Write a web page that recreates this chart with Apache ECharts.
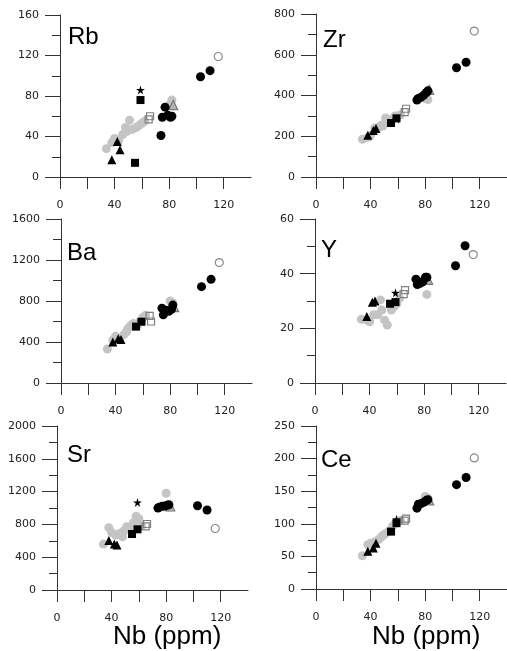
<!DOCTYPE html>
<html><head><meta charset="utf-8">
<script src="https://cdn.jsdelivr.net/npm/echarts@6/dist/echarts.min.js"></script>
<style>html,body{margin:0;padding:0;background:#fff}#c{width:507px;height:651px}</style>
</head><body><div id="c"></div>
<script>
// ---- Nb (ppm) of each sample group (x values) ----
const nbGreyCircle   = [34, 38, 40, 43, 46, 48, 49, 51, 53, 56, 58, 60, 62, 80, 82];
const nbBlackCircle  = [74, 75, 77, 79, 81, 82, 103, 110];
const nbBlackSquare  = [55, 59];
const nbTriangle     = [38, 42, 44];
const nbStar         = [59];
const nbOpenSquare   = [65, 66];
const nbOpenCircle   = [116];
const nbGreyTriangle = [83];

// ---- Rb ----
const rbGreyCircle   = [28, 34, 38, 36, 42, 49, 45, 56, 47, 49, 51, 53, 55, 71, 76];
const rbBlackCircle  = [41, 59, 69, 61, 59, 60, 99, 105];
const rbBlackSquare  = [14, 76];
const rbTriangle     = [17, 35, 27];
const rbStar         = [86];
const rbOpenSquare   = [57, 60];
const rbOpenCircle   = [119];
const rbGreyTriangle = [71];
// ---- Zr ----
const zrGreyCircle   = [185, 195, 205, 240, 245, 255, 250, 290, 270, 285, 300, 300, 305, 385, 380];
const zrBlackCircle  = [378, 385, 392, 402, 415, 423, 536, 563];
const zrBlackSquare  = [265, 288];
const zrTriangle     = [205, 228, 238];
const zrStar         = [285];
const zrOpenSquare   = [318, 335];
const zrOpenCircle   = [716];
const zrGreyTriangle = [428];
// ---- Ba ----
const baGreyCircle   = [332, 420, 455, 430, 470, 500, 530, 560, 580, 560, 600, 640, 660, 800, 780];
const baBlackCircle  = [730, 665, 710, 700, 720, 760, 940, 1011];
const baBlackSquare  = [550, 598];
const baTriangle     = [400, 432, 425];
const baStar         = [600];
const baOpenSquare   = [655, 600];
const baOpenCircle   = [1175];
const baGreyTriangle = [740];
// ---- Y ----
const yGreyCircle    = [23.3, 23, 22.4, 25, 25, 30.4, 26.7, 23, 21.2, 26.7, 28, 29, 31, 38, 32.4];
const yBlackCircle   = [38, 36, 36.5, 37, 38.7, 38.7, 42.9, 50.2];
const yBlackSquare   = [29, 29.6];
const yTriangle      = [24.3, 29.5, 30];
const yStar          = [33];
const yOpenSquare    = [32.5, 34];
const yOpenCircle    = [47];
const yGreyTriangle  = [37.7];
// ---- Sr ----
const srGreyCircle   = [560, 760, 700, 670, 690, 650, 720, 770, 740, 820, 900, 870, 780, 1180, 1010];
const srBlackCircle  = [1000, 1010, 1020, 1025, 1035, 1040, 1028, 976];
const srBlackSquare  = [683, 740];
const srTriangle     = [605, 560, 550];
const srStar         = [1068];
const srOpenSquare   = [775, 805];
const srOpenCircle   = [750];
const srGreyTriangle = [1018];
// ---- Ce ----
const ceGreyCircle   = [51, 68, 70, 72, 76, 80, 82, 85, 88, 96, 100, 103, 105, 142, 139];
const ceBlackCircle  = [124, 130, 131, 133, 136, 137, 160, 171];
const ceBlackSquare  = [88, 101];
const ceTriangle     = [58, 63, 70];
const ceStar         = [107];
const ceOpenSquare   = [105, 108];
const ceOpenCircle   = [201];
const ceGreyTriangle = [136];

// ---- tick labels ----
const nbTicks = [0, 40, 80, 120];
const nbMax = 140;
const rbTicks = [0, 40, 80, 120, 160];
const zrTicks = [0, 200, 400, 600, 800];
const baTicks = [0, 400, 800, 1200, 1600];
const yTicks  = [0, 20, 40, 60];
const srTicks = [0, 400, 800, 1200, 1600, 2000];
const ceTicks = [0, 50, 100, 150, 200, 250];

const panelNames = ['Rb', 'Zr', 'Ba', 'Y', 'Sr', 'Ce'];

// ---- layout / styles ----
const STAR = 'path://M50,0 L61,35 L98,35 L68,57 L79,91 L50,70 L21,91 L32,57 L2,35 L39,35 Z';
const groups = [
  {nb: nbGreyCircle,   symbol: 'circle',   size: 9, color: '#c4c4c4', border: null},
  {nb: nbOpenCircle,   symbol: 'circle',   size: 8, color: 'rgba(255,255,255,0)', border: '#8a8a8a'},
  {nb: nbGreyTriangle, symbol: 'triangle', size: 9, color: '#b4b4b4', border: '#7a7a7a'},
  {nb: nbOpenSquare,   symbol: 'rect',     size: 7, color: 'rgba(255,255,255,0)', border: '#808080'},
  {nb: nbBlackCircle,  symbol: 'circle',   size: 9, color: '#000', border: null},
  {nb: nbBlackSquare,  symbol: 'rect',     size: 8, color: '#000', border: null},
  {nb: nbTriangle,     symbol: 'triangle', size: 9, color: '#000', border: null},
  {nb: nbStar,         symbol: STAR,       size: 9, color: '#000', border: null}
];
const panelValues = [
  [rbGreyCircle, rbOpenCircle, rbGreyTriangle, rbOpenSquare, rbBlackCircle, rbBlackSquare, rbTriangle, rbStar],
  [zrGreyCircle, zrOpenCircle, zrGreyTriangle, zrOpenSquare, zrBlackCircle, zrBlackSquare, zrTriangle, zrStar],
  [baGreyCircle, baOpenCircle, baGreyTriangle, baOpenSquare, baBlackCircle, baBlackSquare, baTriangle, baStar],
  [yGreyCircle,  yOpenCircle,  yGreyTriangle,  yOpenSquare,  yBlackCircle,  yBlackSquare,  yTriangle,  yStar],
  [srGreyCircle, srOpenCircle, srGreyTriangle, srOpenSquare, srBlackCircle, srBlackSquare, srTriangle, srStar],
  [ceGreyCircle, ceOpenCircle, ceGreyTriangle, ceOpenSquare, ceBlackCircle, ceBlackSquare, ceTriangle, ceStar]
];
const panelTicks = [rbTicks, zrTicks, baTicks, yTicks, srTicks, ceTicks];
const gridBoxes = [
  {left: 60,  top: 15,  width: 191, height: 162},
  {left: 316, top: 14,  width: 191, height: 163},
  {left: 61,  top: 219, width: 191, height: 164},
  {left: 315, top: 219, width: 191, height: 164},
  {left: 57,  top: 426, width: 191, height: 164},
  {left: 316, top: 426, width: 191, height: 163}
];
const titlePos = [[68, 37], [323, 40], [67, 253], [321, 250.5], [67, 455], [321, 460]];

const AX = '#333';
const labelFont = {color: '#222', fontFamily: 'DejaVu Sans', fontSize: 11};
const grid = [], xAxis = [], yAxis = [], series = [], graphic = [];

gridBoxes.forEach((g, i) => {
  grid.push(Object.assign({containLabel: false}, g));
  xAxis.push({
    type: 'value', gridIndex: i, min: 0, max: nbMax, interval: 20,
    axisLine: {show: true, onZero: false, lineStyle: {color: AX, width: 1}},
    axisTick: {show: true, length: 12, lineStyle: {color: AX, width: 1}},
    splitLine: {show: false},
    axisLabel: Object.assign({
      margin: 23, showMaxLabel: false,
      formatter: v => nbTicks.indexOf(v) >= 0 ? String(v) : ''
    }, labelFont)
  });
  const t = panelTicks[i];
  yAxis.push({
    type: 'value', gridIndex: i, min: t[0], max: t[t.length - 1], interval: t[1] - t[0],
    axisLine: {show: true, onZero: false, lineStyle: {color: AX, width: 1}},
    axisTick: {show: true, length: 15, lineStyle: {color: AX, width: 1}},
    minorTick: {show: true, splitNumber: 2, length: 8, lineStyle: {color: AX, width: 1}},
    splitLine: {show: false},
    minorSplitLine: {show: false},
    axisLabel: Object.assign({margin: 21, formatter: v => String(v)}, labelFont)
  });
  groups.forEach((grp, k) => {
    const vals = panelValues[i][k];
    series.push({
      type: 'scatter', xAxisIndex: i, yAxisIndex: i,
      symbol: grp.symbol, symbolSize: grp.size,
      data: grp.nb.map((x, j) => [x, vals[j]]),
      itemStyle: {
        color: grp.color, opacity: 1,
        borderColor: grp.border || grp.color, borderWidth: grp.border ? 1.2 : 0
      },
      emphasis: {disabled: true}, silent: true, animation: false
    });
  });
  graphic.push({
    type: 'text', x: titlePos[i][0], y: titlePos[i][1],
    style: {text: panelNames[i], font: '24px "Liberation Sans"', fill: '#000', verticalAlign: 'middle', align: 'left'}
  });
});
graphic.push({type: 'text', x: 113, y: 637,
  style: {text: 'Nb (ppm)', font: '26px "Liberation Sans"', fill: '#000', verticalAlign: 'middle', align: 'left'}});
graphic.push({type: 'text', x: 372, y: 637,
  style: {text: 'Nb (ppm)', font: '26px "Liberation Sans"', fill: '#000', verticalAlign: 'middle', align: 'left'}});

const chart = echarts.init(document.getElementById('c'), null, {renderer: 'canvas'});
chart.setOption({animation: false, backgroundColor: '#fff', grid, xAxis, yAxis, series, graphic});
</script></body></html>
